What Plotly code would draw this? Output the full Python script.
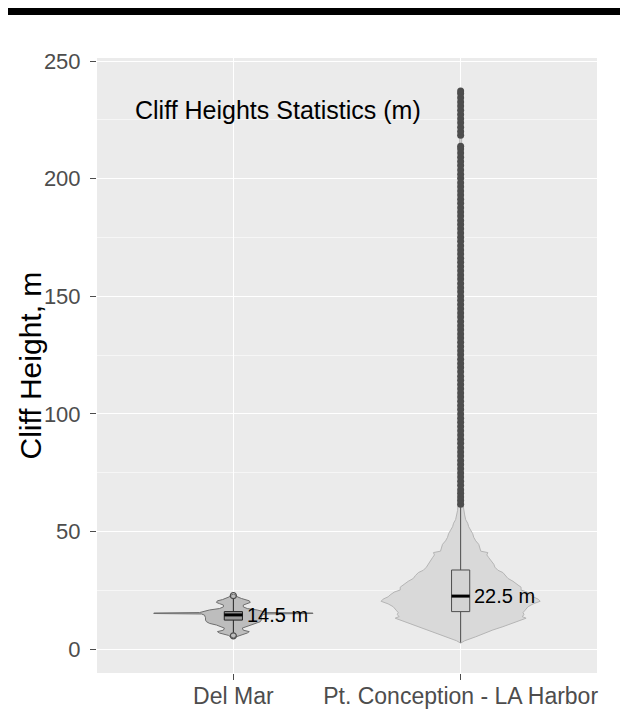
import plotly.graph_objects as go

# ---------------- data ----------------
categories = ["Del Mar", "Pt. Conception - LA Harbor"]
median_labels = ["14.5 m", "22.5 m"]

q1 = [12.3, 15.9]
medians = [14.5, 22.5]
q3 = [15.9, 33.6]
lower_whisker = [6.9, 2.7]
upper_whisker = [21.4, 60.3]

# outliers
outliers_dm = [5.6, 22.7]
outliers_la = [61.6, 63.1, 64.6, 66.2, 67.7, 69.6, 71.3, 73.1, 74.8, 76.7, 78.5, 80.2,
               82.1, 83.8, 85.6, 87.5, 89.2, 91.0, 92.8, 94.6, 96.4, 98.1, 99.9, 101.8,
               103.5, 105.3, 107.2, 108.9, 110.7, 112.5, 114.3, 116.0, 117.9, 119.7,
               121.4, 123.2, 125.1, 126.8, 128.6, 130.4, 132.2, 133.9, 135.8, 137.5,
               139.3, 141.2, 142.9, 144.7, 146.5, 148.3, 150.0, 151.9, 153.6, 155.4,
               157.3, 159.0, 160.8, 162.6, 164.4, 166.1, 168.0, 169.7, 171.5, 173.4,
               175.1, 176.9, 178.7, 180.5, 182.2, 184.1, 185.8, 187.6, 189.5, 191.2,
               193.0, 194.8, 196.6, 198.3, 200.2, 201.9, 203.7, 205.6, 207.3, 209.1,
               210.9, 212.6, 213.8, 218.4, 220.1, 221.9, 223.8, 225.5, 227.3, 229.1,
               230.9, 232.6, 234.4, 236.2, 237.3]

# violin density profiles (height, relative density)
heights_dm = [4.8, 5.2, 5.8, 6.3, 6.8, 7.4, 8.0, 8.9, 9.6, 10.2, 10.9, 11.6, 12.3,
              13.3, 14.4, 14.9, 15.1, 15.3, 15.5, 16.0, 16.6, 17.2, 17.9, 18.7, 19.3,
              19.8, 20.5, 21.0, 21.5, 22.2, 22.8, 23.3]
density_dm = [0, 3, 5, 9, 14, 16, 10, 9, 14, 17, 24, 27, 28,
              28, 29, 32, 80, 80, 34, 30, 24, 14, 10, 10, 14,
              17, 16, 11, 8, 4, 3, 0]

heights_la = [2.5, 3.5, 5.2, 6.5, 8.1, 9.5, 10.9, 12.0, 13.1, 13.8, 14.6, 15.5, 16.5,
              18.0, 19.2, 20.3, 21.2, 22.2, 23.0, 24.2, 25.1, 26.3, 27.2, 28.8, 30.0,
              31.2, 32.5, 33.5, 34.8, 36.0, 37.5, 38.8, 40.0, 41.0, 41.6, 43.2, 44.5,
              46.0, 47.5, 49.0, 50.5, 52.0, 53.5, 55.0, 57.0, 59.0, 61.0, 70.0, 90.0,
              130.0, 180.0, 214.0, 216.0, 218.0, 237.6]
density_la = [0, 4, 15, 22, 32, 42, 50, 58, 65, 61, 63, 62, 64,
              67, 72, 79, 77, 72, 70, 66, 60, 60, 57, 52, 47,
              45, 42, 37, 34, 33, 30, 28, 26, 27, 20, 19, 18,
              15, 13, 12, 10, 8, 7, 5, 4, 3, 2.5, 2, 1.5,
              1.2, 1.2, 1, 0.6, 1, 0]

y_ticks = [0, 50, 100, 150, 200, 250]

# ---------------- figure ----------------
FONT = "Liberation Sans, Arial, sans-serif"
positions = [1, 2]
violin_half = 0.35
box_w = 0.08

fig = go.Figure()

violin_styles = [("#bdbdbd", "#6e6e6e"), ("#d9d9d9", "#b5b5b5")]
for pos, hs, ds, (fc, lc) in zip(positions, [heights_dm, heights_la],
                                 [density_dm, density_la], violin_styles):
    m = max(ds)
    w = [d / m * violin_half for d in ds]
    xs = [pos + v for v in w] + [pos - v for v in reversed(w)]
    ys = list(hs) + list(reversed(hs))
    fig.add_trace(go.Scatter(x=xs, y=ys, mode="lines", fill="toself",
                             fillcolor=fc, line=dict(color=lc, width=1),
                             hoverinfo="skip", showlegend=False))

box_styles = [("#9a9a9a", "#222222"), ("#d3d3d3", "#4d4d4d")]
for i, pos in enumerate(positions):
    fc, lc = box_styles[i]
    # whiskers
    fig.add_trace(go.Scatter(x=[pos, pos, None, pos, pos],
                             y=[lower_whisker[i], q1[i], None, q3[i], upper_whisker[i]],
                             mode="lines", line=dict(color=lc, width=1),
                             hoverinfo="skip", showlegend=False))
    # box
    x0, x1 = pos - box_w / 2, pos + box_w / 2
    fig.add_trace(go.Scatter(x=[x0, x1, x1, x0, x0],
                             y=[q1[i], q1[i], q3[i], q3[i], q1[i]],
                             mode="lines", fill="toself", fillcolor=fc,
                             line=dict(color=lc, width=1),
                             hoverinfo="skip", showlegend=False))
    # median
    fig.add_trace(go.Scatter(x=[x0, x1], y=[medians[i], medians[i]], mode="lines",
                             line=dict(color="black", width=3),
                             hoverinfo="skip", showlegend=False))

fig.add_trace(go.Scatter(x=[positions[0]] * len(outliers_dm), y=outliers_dm,
                         mode="markers",
                         marker=dict(symbol="circle-open", size=6, color="#4d4d4d",
                                     line=dict(width=1.2, color="#4d4d4d")),
                         hoverinfo="skip", showlegend=False))
fig.add_trace(go.Scatter(x=[positions[1]] * len(outliers_la), y=outliers_la,
                         mode="markers",
                         marker=dict(symbol="circle", size=7, color="#4d4d4d",
                                     line=dict(width=0)),
                         hoverinfo="skip", showlegend=False))

for i, pos in enumerate(positions):
    fig.add_annotation(x=pos + 0.05, y=medians[i], text=median_labels[i],
                       xanchor="left", yanchor="middle", showarrow=False,
                       font=dict(family=FONT, size=20, color="black"))

fig.add_annotation(x=1.196, y=229.2, text="Cliff Heights Statistics (m)",
                   xanchor="center", yanchor="middle", showarrow=False,
                   font=dict(family=FONT, size=25, color="black"))

# y axis title
fig.add_annotation(xref="paper", yref="paper", x=-0.134, y=0.5,
                   text="Cliff Height, m", textangle=-90, showarrow=False,
                   xanchor="center", yanchor="middle",
                   font=dict(family=FONT, size=30, color="black"))

fig.add_shape(type="rect", xref="paper", yref="paper",
              x0=-0.188, x1=1.058, y0=1.0699, y1=1.0834,
              fillcolor="black", line=dict(width=0))

fig.update_layout(
    width=620, height=701, autosize=False,
    margin=dict(l=89, r=31, t=50, b=36),
    paper_bgcolor="white", plot_bgcolor="#EBEBEB",
    font=dict(family=FONT),
    xaxis=dict(range=[0.4, 2.6], tickvals=positions, ticktext=categories,
               automargin=False,
               showgrid=True, gridcolor="white", gridwidth=1.1, zeroline=False,
               ticks="outside", ticklen=6, tickcolor="#4d4d4d", tickwidth=1,
               ticklabelstandoff=-4,
               tickfont=dict(size=23, color="#4d4d4d"), showline=False),
    yaxis=dict(range=[-10.2, 251.3], tickvals=y_ticks, automargin=False,
               showgrid=True, gridcolor="white", gridwidth=1.1, zeroline=False,
               ticks="outside", ticklen=6, tickcolor="#4d4d4d", tickwidth=1,
               tickfont=dict(size=22, color="#4d4d4d"), showline=False,
               ticklabelstandoff=5,
               minor=dict(dtick=25, tick0=0, showgrid=True, gridcolor="#F6F6F6",
                          gridwidth=0.6)),
)

fig.write_html("out.html")
